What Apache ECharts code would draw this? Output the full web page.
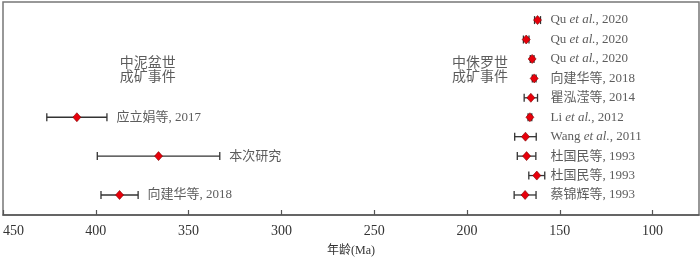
<!DOCTYPE html>
<html><head><meta charset="utf-8">
<script src="https://cdn.jsdelivr.net/npm/echarts@6/dist/echarts.min.js"></script>
<style>html,body{margin:0;padding:0;background:#fff}#c{width:700px;height:260px}</style>
</head><body><div id="c"></div>
<script>
// Right group (Middle Jurassic) references
const rightNames = ['Qu {i|et al.}, 2020','Qu {i|et al.}, 2020','Qu {i|et al.}, 2020','向建华等, 2018','瞿泓滢等, 2014','Li {i|et al.}, 2012','Wang {i|et al.}, 2011','杜国民等, 1993','杜国民等, 1993','蔡锦辉等, 1993'];
const rightAges  = [162.0, 168.1, 164.9, 163.8, 165.6, 166.1, 168.5, 167.9, 162.4, 168.7];
const rightErrs  = [1.6, 1.5, 1.0, 1.0, 3.6, 1.0, 5.8, 5.0, 4.3, 5.9];
const rightRows  = [0, 1, 2, 3, 4, 5, 6, 7, 8, 9];
const rightLabelAge = 155.3;
// Left group (Middle Devonian) references
const leftNames = ['应立娟等, 2017', '本次研究', '向建华等, 2018'];
const leftAges  = [410.2, 366.2, 387.2];
const leftErrs  = [16.2, 33.0, 10.0];
const leftRows  = [5, 7, 9];
// Group titles
const groupNames = ['中泥盆世\n成矿事件', '中侏罗世\n成矿事件'];
const groupAges  = [372.0, 193.0];
const groupRows  = [2.59, 2.59];
// Axis
const xMin = 75, xMax = 450;
const axisName = '年龄(Ma)';

const FONT = '"Liberation Serif", "Noto Sans CJK SC", serif';
const TXT = '#333';

const allAges = rightAges.concat(leftAges);
const allErrs = rightErrs.concat(leftErrs);
const allRows = rightRows.concat(leftRows);

const errData = allAges.map((a, i) => [a - allErrs[i], a + allErrs[i], allRows[i]]);
const ptData = allAges.map((a, i) => [a, allRows[i]]);
const rightLblData = rightNames.map((n, i) => ({value: [rightLabelAge, rightRows[i]], name: n}));
const leftLblData = leftNames.map((n, i) => ({value: [leftAges[i] - leftErrs[i], leftRows[i]], name: n}));
const groupData = groupNames.map((n, i) => ({value: [groupAges[i], groupRows[i]], name: n}));

const chart = echarts.init(document.getElementById('c'));
chart.setOption({
  animation: false,
  grid: {left: 3, right: 1, top: 2, bottom: 45, show: true, borderColor: '#777', borderWidth: 1.5,
         containLabel: false, outerBoundsMode: 'none'},
  xAxis: {
    type: 'value', min: xMin, max: xMax, inverse: true, splitNumber: 7,
    name: axisName, nameLocation: 'middle', nameGap: 30,
    nameTextStyle: {fontSize: 12, color: TXT, fontFamily: FONT},
    axisLine: {show: true, onZero: false, lineStyle: {color: '#555', width: 1.5}},
    axisTick: {show: true, inside: true, length: 5, lineStyle: {color: '#555', width: 1.2}},
    splitLine: {show: false},
    axisLabel: {fontSize: 14, color: TXT, fontFamily: FONT, margin: 9, showMinLabel: false, alignMaxLabel: 'left'}
  },
  yAxis: {type: 'value', min: -0.93, max: 10.03, inverse: true, show: false},
  series: [
    {
      type: 'custom', data: errData, encode: {x: [0, 1], y: 2}, z: 2,
      renderItem: function (params, api) {
        const lo = api.coord([api.value(0), api.value(2)]);
        const hi = api.coord([api.value(1), api.value(2)]);
        const h = 4, st = {stroke: '#333', lineWidth: 1.3};
        return {type: 'group', children: [
          {type: 'line', shape: {x1: lo[0], y1: lo[1], x2: hi[0], y2: hi[1]}, style: st},
          {type: 'line', shape: {x1: lo[0], y1: lo[1] - h, x2: lo[0], y2: lo[1] + h}, style: st},
          {type: 'line', shape: {x1: hi[0], y1: hi[1] - h, x2: hi[0], y2: hi[1] + h}, style: st}
        ]};
      }
    },
    {
      type: 'scatter', data: ptData, symbol: 'diamond', symbolSize: [8, 9], z: 3,
      itemStyle: {color: '#e8000b', borderColor: '#7a0000', borderWidth: 0.6, opacity: 1}
    },
    {
      type: 'scatter', data: rightLblData, symbolSize: 1, itemStyle: {color: 'rgba(0,0,0,0)'}, z: 4,
      label: {show: true, position: 'right', distance: 0, formatter: '{b}', fontSize: 13, color: TXT, fontFamily: FONT,
        rich: {i: {fontStyle: 'italic', fontSize: 13, color: TXT, fontFamily: FONT}}}
    },
    {
      type: 'scatter', data: leftLblData, symbolSize: 1, itemStyle: {color: 'rgba(0,0,0,0)'}, z: 4,
      label: {show: true, position: 'right', distance: 9, formatter: '{b}', fontSize: 13, color: TXT, fontFamily: FONT}
    },
    {
      type: 'scatter', data: groupData, symbolSize: 1, itemStyle: {color: 'rgba(0,0,0,0)'}, z: 4,
      label: {show: true, position: 'inside', formatter: '{b}', fontSize: 14, lineHeight: 14, color: TXT, fontFamily: FONT}
    }
  ]
});
</script></body></html>
